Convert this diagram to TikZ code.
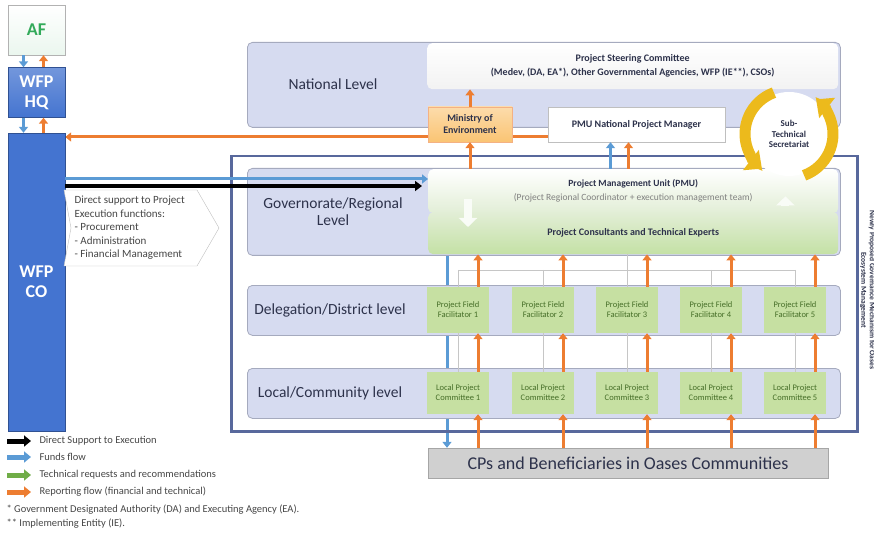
\documentclass[tikz,border=0pt]{standalone}
\usepackage{fontspec}
\setmainfont{Carlito}
\usetikzlibrary{shapes,positioning,arrows,arrows.meta,calc,fit}
\pgfdeclarelayer{background}
\pgfsetlayers{background,main}

\definecolor{wfpblue}{RGB}{68,116,208}
\definecolor{fundblue}{RGB}{91,155,213}
\definecolor{repor}{RGB}{237,125,49}
\definecolor{lvlfill}{RGB}{214,219,240}
\definecolor{lvlline}{RGB}{165,170,190}
\definecolor{mechline}{RGB}{88,104,156}
\definecolor{fieldgreen}{RGB}{198,224,162}
\definecolor{fieldtext}{RGB}{70,110,40}
\definecolor{minfill}{RGB}{250,196,115}
\definecolor{cpsgrey}{RGB}{208,208,208}
\definecolor{gold}{RGB}{236,186,28}
\definecolor{darktext}{RGB}{45,50,75}
\definecolor{techpale}{RGB}{226,238,214}
\definecolor{consgreen}{RGB}{196,225,165}
\definecolor{afgreen}{RGB}{50,170,90}
\definecolor{legtext}{RGB}{70,70,70}
\definecolor{techgreen}{RGB}{112,173,71}

\tikzset{
  level/.style={draw=lvlline, fill=lvlfill, rounded corners=5pt, line width=0.8pt, anchor=north west, minimum width=593pt},
  lvltext/.style={font=\fontsize{15.5}{17}\selectfont, text=darktext, align=center},
  wfp/.style={fill=wfpblue, draw=wfpblue!70!black, text=white, font=\fontsize{18}{20}\selectfont\bfseries, align=center, minimum width=57pt},
  field/.style={fill=fieldgreen, text=fieldtext, font=\fontsize{8.5}{10}\selectfont, align=center, minimum width=62pt, inner sep=1pt},
  smallbold/.style={font=\fontsize{10}{12}\selectfont\bfseries, text=darktext, align=center},
  report/.style={draw=repor, line width=3pt, -{Triangle[length=6pt,width=9pt]}},
  funds/.style={draw=fundblue, line width=3pt, -{Triangle[length=6pt,width=9pt]}},
  direct/.style={draw=black, line width=3.5pt, -{Triangle[length=7pt,width=10pt]}},
  tech/.style={draw=white!80!techpale, line width=8pt, -{Triangle[length=9pt,width=18pt]}},
  tree/.style={draw=gray!45, line width=0.6pt},
  legarrow/.style={line width=5pt, -{Triangle[length=7pt,width=11pt]}},
  legtext/.style={font=\fontsize{10.5}{12}\selectfont, text=legtext, anchor=west},
  cycarrow/.style={draw=gold, line width=11pt, -{Triangle[length=14pt,width=25pt]}},
}

\begin{document}
\begin{tikzpicture}[x=1pt,y=-1pt]
\useasboundingbox (0,0) rectangle (874,534);

% WFP side
\node[draw=gray!60, top color=white, bottom color=afgreen!10, minimum width=57pt, minimum height=50pt, text=afgreen, font=\fontsize{18}{20}\selectfont\bfseries] (af) at (36.5,30) {AF};
\node[wfp, minimum height=50pt, top color=wfpblue!75, bottom color=wfpblue] (hq) at (36.5,92.5) {WFP\\HQ};
\node[wfp, minimum height=298pt] (co) at (36.5,282) {WFP\\CO};
\draw[funds] ([xshift=-13pt]af.south) -- ([xshift=-13pt]hq.north);
\draw[report] ([xshift=7pt]hq.north) -- ([xshift=7pt]af.south);
\draw[funds] ([xshift=-13pt]hq.south) -- ([xshift=-13pt]co.north);
\draw[report] ([xshift=7pt]co.north) -- ([xshift=7pt]hq.south);

% national level
\node[level, minimum height=85pt] (natl) at (247,42) {};
\node[lvltext] (natltxt) at (333,84) {National Level};
\node[smallbold, anchor=north west, minimum width=411pt, minimum height=46pt, top color=white, bottom color=gray!10, rounded corners=5pt] (steer) at (427,43) {Project Steering Committee\\[2pt](Medev, (DA, EA*), Other Governmental Agencies, WFP (IE**), CSOs)};
\node[smallbold, draw=repor!60, top color=minfill!60, bottom color=minfill, minimum width=84pt, minimum height=35pt] (minenv) at (470,124.5) {Ministry of\\Environment};
\node[smallbold, draw=gray!50, fill=white, minimum width=177pt, minimum height=35pt] (pmunat) at (636.5,124.5) {PMU National Project Manager};

% mechanism frame
\node[draw=mechline, line width=2.5pt, anchor=north west, minimum width=626pt, minimum height=275pt] (mech) at (230,155) {};
\node[rotate=-90, font=\fontsize{7.5}{8.5}\selectfont\bfseries, text=darktext, align=center] (mechlbl) at (867.5,290) {Newly Proposed Governance Mechanism for Oases\\Ecosystem Management};

% governorate level
\node[level, minimum height=87pt] (gov) at (247,168) {};
\node[lvltext] (govtxt) at (333,212) {Governorate/Regional\\Level};
\node[smallbold, font=\fontsize{9.5}{11}\selectfont\bfseries, anchor=north west, minimum width=410pt, minimum height=44pt, top color=white, bottom color=techpale, rounded corners=5pt] (pmu) at (428,169) {Project Management Unit (PMU)\\[3pt]{\mdseries\color{gray}(Project Regional Coordinator + execution management team)}};
\node[smallbold, anchor=north west, minimum width=410pt, minimum height=42pt, top color=techpale, bottom color=consgreen, rounded corners=5pt] (pmucons) at (428,212) {Project Consultants and Technical Experts};
\draw[tech] ([xshift=40pt,yshift=14pt]pmu.south west) -- ([xshift=40pt,yshift=-15pt]pmucons.north west);
\draw[tech] ([xshift=-53pt,yshift=6pt]pmucons.north east) -- ([xshift=-53pt,yshift=17pt]pmu.south east);

% delegation and local levels
\node[level, minimum height=50pt] (deleg) at (247,285) {};
\node[lvltext] (delegtxt) at (330,310) {Delegation/District level};
\node[level, minimum height=50pt] (local) at (247,368) {};
\node[lvltext] (localtxt) at (330,393) {Local/Community level};
\foreach \i/\x in {1/458,2/543,3/627,4/711,5/795}{
  \node[field, minimum height=46pt] (fac\i) at (\x,310) {Project Field\\Facilitator \i};
  \node[field, minimum height=42pt] (com\i) at (\x,393) {Local Project\\Committee \i};
}
\node[draw=gray!70, fill=cpsgrey, minimum width=400pt, minimum height=30pt, font=\fontsize{18}{20}\selectfont, text=darktext] (cps) at (628,463) {CPs and Beneficiaries in Oases Communities};

% hierarchy lines
\coordinate (split) at (627,270);
\draw[tree] (pmucons.south -| fac3.north) -- (fac3.north);
\draw[tree] (fac1.north |- split) -- (fac5.north |- split);
\foreach \i in {1,...,5}{
  \draw[tree] (fac\i.north |- split) -- (fac\i.north);
  \draw[tree] (fac\i.south) -- (com\i.north);
}

% flows
\begin{pgfonlayer}{background}
\draw[funds] ([xshift=19pt]pmucons.south west) -- ([xshift=19pt]pmucons.south west |- cps.north);
\draw[report] ([yshift=-12.5pt]pmunat.west) -- ([yshift=-12.5pt]pmunat.west -| co.east);
\end{pgfonlayer}
\foreach \i in {1,...,5}{
  \draw[report] ([xshift=20pt]fac\i.north) -- ([xshift=20pt]fac\i.north |- pmucons.south);
  \draw[report] ([xshift=20pt]com\i.north) -- ([xshift=20pt]fac\i.south);
  \draw[report] ([xshift=20pt]com\i.south |- cps.north) -- ([xshift=20pt]com\i.south);
}
\draw[report] (pmu.north -| minenv.south) -- (minenv.south);
\draw[report] (minenv.north) -- (minenv.north |- steer.south);
\draw[funds] ([xshift=-26pt]pmunat.south |- pmu.north) -- ([xshift=-26pt]pmunat.south);
\draw[report] ([xshift=-8pt]pmunat.south |- pmu.north) -- ([xshift=-8pt]pmunat.south);
\coordinate (pmuin) at ([yshift=-10pt]pmu.north west);
\coordinate (pmudir) at ([xshift=-6pt,yshift=-17pt]pmu.north west);
\draw[funds] (co.east |- pmuin) -- (pmuin);
\draw[direct] (co.east |- pmudir) -- (pmudir);

% direct support functions
\draw[draw=gray!50, fill=white] (64,190) -- (197,190) -- (219,228) -- (197,266) -- (64,266) -- (71,228) -- cycle;
\node[anchor=west, align=left, font=\fontsize{11}{13.5}\selectfont, text=legtext] (support) at (71,228) {Direct support to Project\\Execution functions:\\- Procurement\\- Administration\\- Financial Management};

% sub-technical secretariat
\node[smallbold, font=\fontsize{9}{10.5}\selectfont\bfseries, circle, fill=white, minimum size=84pt] (sts) at (789,134) {Sub-\\Technical\\Secretariat};
\draw[cycarrow] ([shift={(110:44pt)}]sts.center) arc[start angle=110, end angle=232, radius=44pt];
\draw[cycarrow] ([shift={(290:44pt)}]sts.center) arc[start angle=290, end angle=412, radius=44pt];

% legend
\node[legtext] (lg1) at (36,441) {Direct Support to Execution};
\node[legtext] (lg2) at (36,457) {Funds flow};
\node[legtext] (lg3) at (36,475) {Technical requests and recommendations};
\node[legtext] (lg4) at (36,492) {Reporting flow (financial and technical)};
\draw[legarrow, draw=black] ([xshift=-29pt]lg1.west) -- ([xshift=-5pt]lg1.west);
\draw[legarrow, draw=fundblue] ([xshift=-29pt]lg2.west) -- ([xshift=-5pt]lg2.west);
\draw[legarrow, draw=techgreen] ([xshift=-29pt]lg3.west) -- ([xshift=-5pt]lg3.west);
\draw[legarrow, draw=repor] ([xshift=-29pt]lg4.west) -- ([xshift=-5pt]lg4.west);
\node[legtext] (note1) at (3,510) {* Government Designated Authority (DA) and Executing Agency (EA).};
\node[legtext] (note2) at (3,524) {** Implementing Entity (IE).};
\end{tikzpicture}
\end{document}
